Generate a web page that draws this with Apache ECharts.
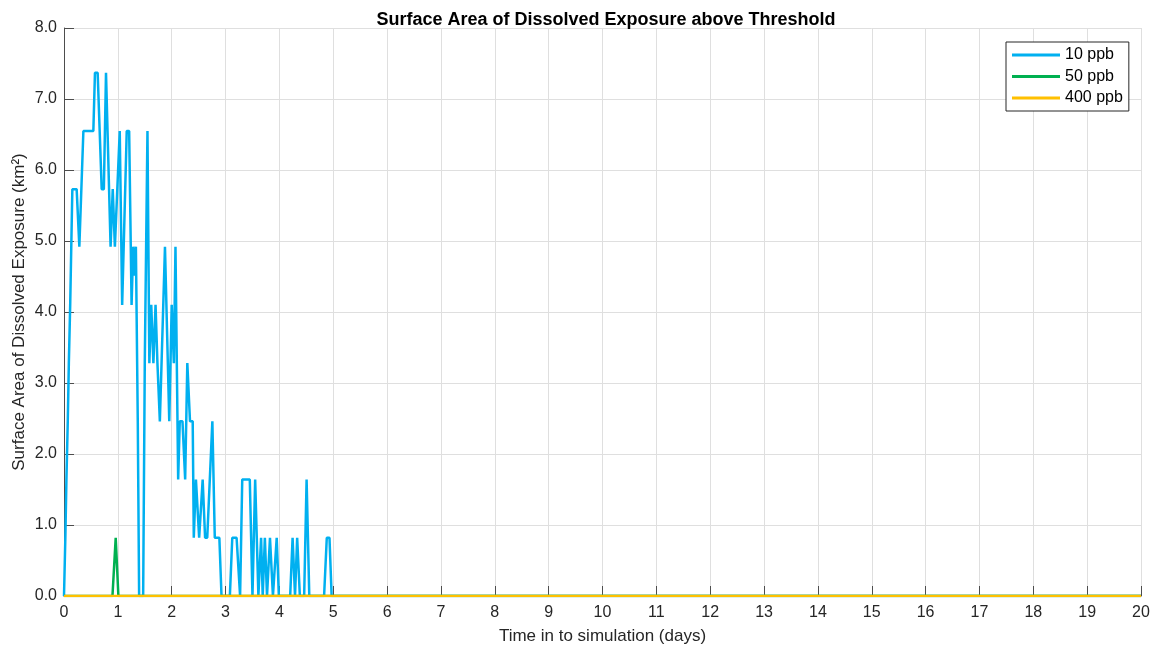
<!DOCTYPE html>
<html>
<head>
<meta charset="utf-8">
<script src="https://cdn.jsdelivr.net/npm/echarts@6/dist/echarts.min.js"></script>
<style>
html,body{margin:0;padding:0;background:#fff;}
#chart{width:1158px;height:648px;}
</style>
</head>
<body>
<div id="chart"></div>
<script>
// ---- Data ----
const seriesNames = ['10 ppb', '50 ppb', '400 ppb'];

const t10 = [0, 0.025, 0.045, 0.07, 0.09, 0.115, 0.135, 0.155, 0.235, 0.285, 0.36, 0.545, 0.575, 0.625, 0.70, 0.74, 0.78, 0.795, 0.865, 0.905, 0.945, 1.035, 1.08, 1.165, 1.21, 1.255, 1.285, 1.31, 1.335, 1.37, 1.395, 1.47, 1.50, 1.55, 1.585, 1.62, 1.66, 1.70, 1.735, 1.78, 1.875, 1.955, 2.0, 2.04, 2.07, 2.12, 2.15, 2.20, 2.25, 2.29, 2.34, 2.39, 2.41, 2.45, 2.51, 2.575, 2.62, 2.66, 2.755, 2.80, 2.885, 2.925, 3.08, 3.125, 3.205, 3.27, 3.31, 3.45, 3.50, 3.55, 3.61, 3.66, 3.69, 3.73, 3.77, 3.825, 3.88, 3.95, 3.99, 4.2, 4.245, 4.29, 4.33, 4.38, 4.46, 4.505, 4.555, 4.83, 4.88, 4.93, 4.97, 20];
const v10 = [0, 0.82, 1.64, 2.46, 3.28, 4.10, 4.92, 5.73, 5.73, 4.92, 6.55, 6.55, 7.37, 7.37, 5.73, 5.73, 7.37, 7.37, 4.92, 5.73, 4.92, 6.55, 4.10, 6.55, 6.55, 4.10, 4.92, 4.51, 4.92, 2.46, 0, 0, 3.28, 6.55, 3.28, 4.10, 3.28, 4.10, 3.28, 2.46, 4.92, 2.46, 4.10, 3.28, 4.92, 1.64, 2.46, 2.46, 1.64, 3.28, 2.46, 2.46, 0.82, 1.64, 0.82, 1.64, 0.82, 0.82, 2.46, 0.82, 0.82, 0, 0, 0.82, 0.82, 0, 1.64, 1.64, 0, 1.64, 0, 0.82, 0, 0.82, 0, 0.82, 0, 0.82, 0, 0, 0.82, 0, 0.82, 0, 0, 1.64, 0, 0, 0.82, 0.82, 0, 0];

const t50 = [0, 0.90, 0.96, 1.01, 20];
const v50 = [0, 0, 0.82, 0, 0];

const t400 = [0, 20];
const v400 = [0, 0];

const yTickLabels = ['0.0','1.0','2.0','3.0','4.0','5.0','6.0','7.0','8.0'];

// ---- Build ----
function pairs(t, v){ return t.map((x,i)=>[x, v[i]]); }
const colors = ['#00b0f0', '#00b050', '#ffc000'];
const dataSets = [pairs(t10, v10), pairs(t50, v50), pairs(t400, v400)];

const chart = echarts.init(document.getElementById('chart'), null, {renderer:'canvas'});
const font = 'Liberation Sans, Arial, Helvetica, sans-serif';
const axisColor = '#4d4d4d';
const textColor = '#262626';

chart.setOption({
  animation: false,
  backgroundColor: '#ffffff',
  textStyle: {fontFamily: font},
  title: {
    text: 'Surface Area of Dissolved Exposure above Threshold',
    left: 601, top: 6, textAlign: 'center',
    textStyle: {fontFamily: font, fontSize: 18, fontWeight: 'bold', color: '#000'}
  },
  legend: {
    data: seriesNames,
    orient: 'vertical',
    left: 1006, top: 42,
    padding: [5, 6, 5, 6],
    itemGap: 5.5,
    itemWidth: 48, itemHeight: 3,
    icon: 'rect',
    backgroundColor: '#ffffff',
    borderColor: '#262626', borderWidth: 1,
    textStyle: {fontFamily: font, fontSize: 16, color: '#000'}
  },
  grid: {left: 64, right: 17, top: 28, bottom: 52, containLabel: false, outerBoundsMode: 'none'},
  xAxis: {
    type: 'value', min: 0, max: 20, interval: 1,
    name: 'Time in to simulation (days)',
    nameLocation: 'middle', nameGap: 32, nameMoveOverlap: false,
    nameTextStyle: {fontFamily: font, fontSize: 17, color: textColor},
    axisLine: {show: true, onZero: false, lineStyle: {color: axisColor, width: 1}},
    axisTick: {show: true, inside: true, length: 10, lineStyle: {color: axisColor}},
    axisLabel: {fontFamily: font, fontSize: 16, color: textColor, margin: 9},
    splitLine: {show: true, lineStyle: {color: '#dfdfdf', width: 1}}
  },
  yAxis: {
    type: 'value', min: 0, max: 8, interval: 1,
    name: 'Surface Area of Dissolved Exposure (km²)',
    nameLocation: 'middle', nameGap: 36, nameMoveOverlap: false,
    nameTextStyle: {fontFamily: font, fontSize: 17, color: textColor},
    axisLine: {show: true, lineStyle: {color: axisColor, width: 1}},
    axisTick: {show: true, inside: true, length: 10, lineStyle: {color: axisColor}},
    axisLabel: {fontFamily: font, fontSize: 16, color: textColor, margin: 7,
      formatter: function(val){ return yTickLabels[Math.round(val)]; }},
    splitLine: {show: true, lineStyle: {color: '#dfdfdf', width: 1}}
  },
  series: seriesNames.map((n, i) => ({
    name: n,
    type: 'line',
    data: dataSets[i],
    showSymbol: false,
    symbol: 'none',
    color: colors[i],
    lineStyle: {color: colors[i], width: 2.5},
    z: 2 + i
  }))
});
</script>
</body>
</html>
